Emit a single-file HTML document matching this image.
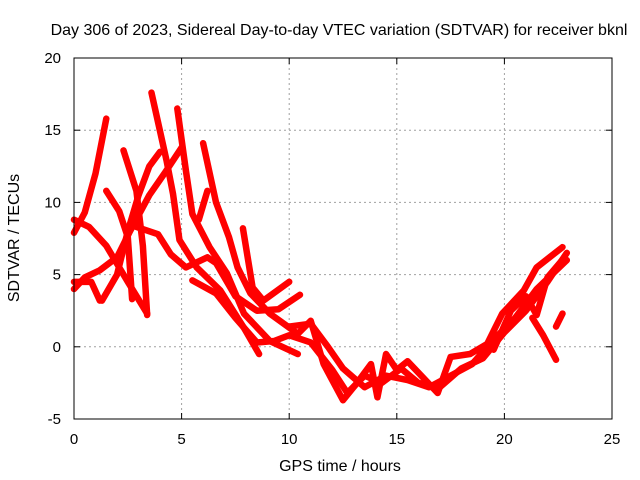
<!DOCTYPE html>
<html><head><meta charset="utf-8"><style>
body{margin:0;background:#fff}
svg{display:block;font-family:"Liberation Sans",sans-serif}
</style></head><body>
<svg id="chart" width="640" height="480" viewBox="0 0 640 480">
<text x="339" y="35" font-size="16" text-anchor="middle" fill="#000">Day 306 of 2023, Sidereal Day-to-day VTEC variation (SDTVAR) for receiver bknl</text>
<g id="grid"></g>
<g id="tracks"></g>
<rect x="74" y="58" width="538" height="361" fill="none" stroke="#000" stroke-width="1"/>
<g id="ticks"></g>
<text x="340" y="471" font-size="16" text-anchor="middle">GPS time / hours</text>
<text x="19" y="238" font-size="16" text-anchor="middle" transform="rotate(-90 19 238)">SDTVAR / TECUs</text>
</svg>
<script>
const xTicks=[0,5,10,15,20,25];
const yTicks=[-5,0,5,10,15,20];
const track1=[[0,7.9],[0.5,9.3],[1,12],[1.5,15.8]];
const track2=[[0,8.8],[0.7,8.3],[1.5,7],[2.1,5.5],[2.5,4.5],[3.4,2.3]];
const track3=[[0,4],[0.5,4.8],[1.2,5.3],[2,6.2],[2.6,8],[3.5,10.5],[4.2,12],[5,13.8]];
const track4=[[0,4.5],[0.8,4.5],[1.2,3.2]];
const track5=[[1.3,3.2],[2,5],[2.5,8],[3,10.5],[3.5,12.5],[4,13.5]];
const track6=[[2.3,13.6],[2.9,10.8],[3.2,7],[3.4,2.2]];
const track7=[[1.5,10.8],[2.1,9.4],[2.5,7.6],[2.7,3.3]];
const track8=[[3.6,17.6],[4.3,12.9],[4.6,10.6],[4.9,7.4],[5.7,5.5],[6.8,3.9],[7.9,1.3],[8.6,-0.5]];
const track9=[[4.8,16.5],[5.2,12.2],[5.5,9.2],[6.3,6.9],[7.1,5.1],[7.9,2.3],[9.1,0.4],[10.4,-0.5]];
const track10=[[6,14.1],[6.6,10],[7.2,7.6],[7.6,5.5],[8.2,3.7],[9.1,2.3],[10.4,0.9],[11,1.8],[11.6,-1.2],[12.5,-3.7],[13.1,-2.6],[13.8,-1.2],[14.1,-3.5],[14.5,-0.5],[15,-1.6],[15.5,-1],[16.2,-2.1],[16.9,-3.2],[17.5,-0.7],[18.4,-0.5],[19.2,0.2],[19.9,2.3],[20.9,3.9],[21.5,5.5],[22.7,6.9]];
const track11=[[7.85,8.2],[8.3,4.1],[8.8,3.2],[10,4.5]];
const track12=[[6.2,10.8],[5.8,8.8]];
const track13=[[2.9,8.3],[3.9,7.8],[4.5,6.4],[5.2,5.5],[6.2,6.2],[6.6,5.8],[7.5,3.5],[8.5,2.5],[9.5,2.6],[10.5,3.6]];
const track14=[[5.5,4.6],[6.6,3.7],[7.5,2],[8.5,0.3],[9.3,0.4],[10,0.8],[11,0.3],[12,-1.6],[12.7,-3.2],[13.5,-2],[14.3,-2.5],[15.2,-1.5],[16,-2.5],[17,-2.8],[18,-1.5],[19,-0.8],[20,1],[21,2.5],[22,4.5],[22.9,6.5]];
const track15=[[10,1.4],[11,1.6],[11.8,0],[12.5,-1.5],[13.5,-2.8],[14.5,-2],[15.5,-2.3],[16.5,-2.8],[17.5,-2],[18.5,-1.2],[19.5,0.5],[20.5,2],[21.5,4],[22.9,6]];
const track16=[[21.3,2],[21.8,0.8],[22.4,-0.9]];
const track17=[[22.4,1.4],[22.7,2.3]];
const track18=[[19.5,-0.2],[20.3,2.5],[21,3.5],[21.5,2.2],[22,4.8],[22.8,6.2]];
const tracks=[track1,track2,track3,track4,track5,track6,track7,track8,track9,track10,track11,track12,track13,track14,track15,track16,track17,track18];
const X0=74,X1=612,Y0=419,Y1=58,XMIN=0,XMAX=25,YMIN=-5,YMAX=20;
const sx=v=>X0+(v-XMIN)/(XMAX-XMIN)*(X1-X0);
const sy=v=>Y0-(v-YMIN)/(YMAX-YMIN)*(Y0-Y1);
const NS="http://www.w3.org/2000/svg";
const grid=document.getElementById('grid'),ticks=document.getElementById('ticks'),tg=document.getElementById('tracks');
function mk(t,a){const e=document.createElementNS(NS,t);for(const k in a)e.setAttribute(k,a[k]);return e;}
xTicks.forEach(v=>{
  const x=sx(v);
  if(v>XMIN&&v<XMAX){const g=mk('line',{x1:x,x2:x,y1:Y1,y2:Y0,stroke:'#a0a0a0','stroke-dasharray':'2,3'});
  
  grid.appendChild(g);}
  ticks.appendChild(mk('line',{x1:x,x2:x,y1:Y0,y2:Y0-6,stroke:'#000'}));
  ticks.appendChild(mk('line',{x1:x,x2:x,y1:Y1,y2:Y1+6,stroke:'#000'}));
  const l=mk('text',{x:x,y:Y0+25,'font-size':15,'text-anchor':'middle'});l.textContent=v;
  
  ticks.appendChild(l);
});
yTicks.forEach(v=>{
  const y=sy(v);
  if(v>YMIN&&v<YMAX){const g=mk('line',{x1:X0,x2:X1,y1:y,y2:y,stroke:'#a0a0a0','stroke-dasharray':'2,3'});
  
  grid.appendChild(g);}
  ticks.appendChild(mk('line',{x1:X0,x2:X0+6,y1:y,y2:y,stroke:'#000'}));
  ticks.appendChild(mk('line',{x1:X1,x2:X1-6,y1:y,y2:y,stroke:'#000'}));
  const l=mk('text',{x:X0-13,y:y+5,'font-size':15,'text-anchor':'end'});l.textContent=v;
  
  ticks.appendChild(l);
});
tracks.forEach(tr=>{
  const p=mk('polyline',{points:tr.map(d=>sx(d[0])+','+sy(d[1])).join(' '),fill:'none',stroke:'#ff0000','stroke-width':6.5,'stroke-linejoin':'round','stroke-linecap':'round'});
  
  
  tg.appendChild(p);
});
</script>
</body></html>
